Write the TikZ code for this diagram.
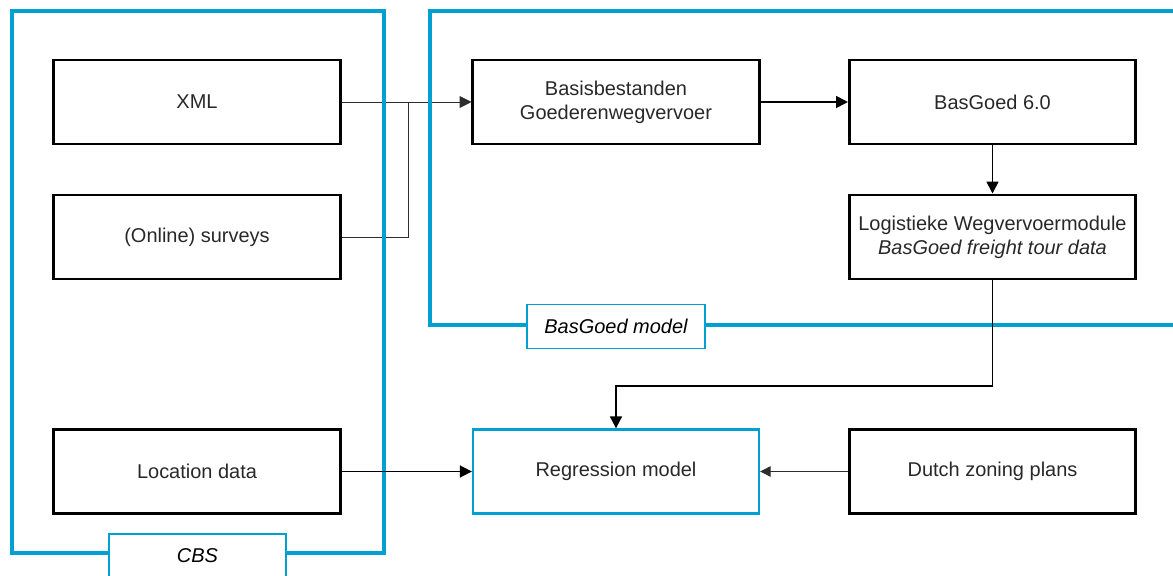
\documentclass[tikz,border=0pt]{standalone}
\usepackage{fontspec}
\setmainfont{Liberation Sans}
\usetikzlibrary{arrows.meta}
\definecolor{frameblue}{RGB}{0,160,210}
\definecolor{thingray}{RGB}{45,45,45}
\definecolor{textgray}{RGB}{40,40,40}

\begin{document}
\begin{tikzpicture}[x=0.025cm, y=-0.025cm,
    box/.style={draw, line width=2.1pt, minimum width=7.15cm, minimum height=2.1cm,
      inner sep=0pt, align=center, text=textgray, font=\fontsize{14.2}{17}\selectfont},
    bluebox/.style={box, draw=frameblue, line width=1.6pt},
    tag/.style={draw=frameblue, fill=white, line width=1.4pt, minimum width=4.43cm,
      minimum height=1.1cm, inner sep=0pt, font=\fontsize{14.2}{17}\selectfont\itshape},
    frame/.style={draw=frameblue, line width=3pt},
    thin/.style={draw=thingray, line width=0.7pt, -{Triangle[length=7.5pt,width=7.5pt]}},
    thick/.style={draw=black, line width=1.25pt, -{Triangle[length=8.5pt,width=8.5pt]}}]
    \useasboundingbox (0,0) rectangle (1173,576);
    \clip (0,0) rectangle (1173,576);

    % sources on the left
    \node[box] (xml) at (197, 102) {XML};
    \node[box] (surveys) at (197, 237) {(Online) surveys};
    \node[box] (location) at (197, 471.5) {Location data};

    % BasGoed chain
    \node[box] (basis) at (616, 102) {Basisbestanden\\Goederenwegvervoer};
    \node[box] (basgoed) at (992.5, 102) {BasGoed 6.0};
    \node[box] (logis) at (992.5, 237) {Logistieke Wegvervoermodule\\\textit{BasGoed freight tour data}};

    \node[bluebox] (regr) at (616, 471.5) {Regression model};
    \node[box] (zoning) at (992.5, 471.5) {Dutch zoning plans};

    \coordinate (join) at (408, 102);
    \coordinate (bend) at (992.5, 386);

    \draw[thin, -{Triangle[length=8.5pt,width=8.5pt]}] (xml.east) -- (basis.west);
    \draw[draw=thingray, line width=0.7pt] (surveys.east) -| (join);

    % frames
    \draw[frame] (12, 11) rectangle (384, 553);
    \draw[frame] (430, 11) rectangle (1200, 325);
    \node[tag] (cbstag) at (197.5, 556) {CBS};
    \node[tag] (bgtag) at (616, 326.5) {BasGoed model};

    \draw[thick] (basis.east) -- (basgoed.west);
    \draw[thick] (basgoed.south) -- (logis.north);
    \draw[thick] (logis.south) -- (bend) -| (regr.north);
    \draw[thick] (location.east) -- (regr.west);
    \draw[thin] (zoning.west) -- (regr.east);
\end{tikzpicture}
\end{document}
